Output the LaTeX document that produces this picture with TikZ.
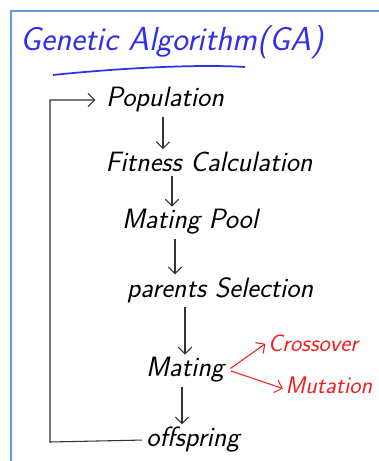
\documentclass[tikz,border=0pt]{standalone}
\usepackage{fontspec}
\usetikzlibrary{arrows.meta}
\definecolor{penblue}{HTML}{3030E8}
\definecolor{penred}{HTML}{F02020}
\definecolor{framecol}{HTML}{6A98D6}

\begin{document}
\begin{tikzpicture}[x=0.0264cm,y=-0.0264cm,
  hand/.style={font=\fontsize{21}{21}\selectfont\sffamily\itshape,inner sep=1pt},
  arr/.style={-{Straight Barb[length=5pt,width=10pt]},line width=0.8pt,black!80,shorten <=2pt,shorten >=1pt},
  redarr/.style={arr,penred}]
\useasboundingbox (0,0) rectangle (379,461);
\draw[framecol,line width=1.2pt] (11,461) -- (11,11) -- (379,11);
% title
\node[hand,penblue,font=\fontsize{25}{25}\selectfont\sffamily\itshape] (title) at (172,42) {Genetic Algorithm(GA)};
\draw[penblue,line width=1.3pt] (53,75) .. controls (120,68) and (200,64) .. (245,67);
% steps
\node[hand] (pop) at (165,100) {Population};
\node[hand] (fit) at (209,162) {Fitness Calculation};
\node[hand] (pool) at (190,222) {Mating Pool};
\node[hand] (sel) at (220,290) {parents Selection};
\node[hand] (mat) at (185,370) {Mating};
\node[hand] (off) at (193,440) {offspring};
\node[hand,penred,font=\fontsize{18}{18}\selectfont\sffamily\itshape] (cross) at (313,343) {Crossover};
\node[hand,penred,font=\fontsize{18}{18}\selectfont\sffamily\itshape] (mut) at (329,385) {Mutation};
\draw[arr] (pop.south -| 163,0) -- (fit.north -| 163,0);
\draw[arr] (fit.south -| 172,0) -- (pool.north -| 172,0);
\draw[arr] (pool.south -| 175,0) -- (sel.north -| 175,0);
\draw[arr] (sel.south -| 185,0) -- (mat.north -| 185,0);
\draw[arr] (mat.south -| 182,0) -- (off.north -| 182,0);
\coordinate (fork) at ([xshift=2pt]mat.east);
\draw[redarr] (fork) -- (cross.west);
\draw[redarr] (fork) -- ([yshift=-3pt]mut.west);
% back to population
\coordinate (loop) at (50,442);
\draw[arr] (off.west) -- (loop) |- ([xshift=-6pt]pop.west);
\end{tikzpicture}
\end{document}
